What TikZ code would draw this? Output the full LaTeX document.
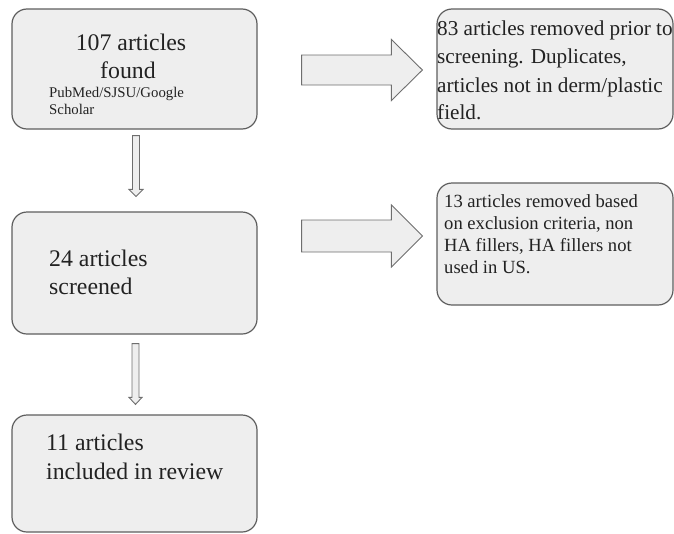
\documentclass[tikz,border=0pt]{standalone}
\usepackage{fontspec}
\setmainfont{Liberation Serif}
\usetikzlibrary{calc}
\definecolor{boxfill}{HTML}{EEEEEE}
\definecolor{boxline}{HTML}{5E5E5E}
\definecolor{arrline}{HTML}{6E6E6E}
\definecolor{txt}{HTML}{222222}
\newcommand{\hblk}[5]{\draw[blockarr] let \p1=(#1),\p2=(#2) in
  (\x1,\y1-#3pt) -- (\x2-#5pt,\y1-#3pt) -- (\x2-#5pt,\y1-#4pt) -- (\x2,\y1)
  -- (\x2-#5pt,\y1+#4pt) -- (\x2-#5pt,\y1+#3pt) -- (\x1,\y1+#3pt) -- cycle;}
\newcommand{\vblk}[5]{\draw[blockarr] let \p1=(#1),\p2=(#2) in
  (\x1-#3pt,\y1) -- (\x1-#3pt,\y2+#5pt) -- (\x1-#4pt,\y2+#5pt) -- (\x1,\y2)
  -- (\x1+#4pt,\y2+#5pt) -- (\x1+#3pt,\y2+#5pt) -- (\x1+#3pt,\y1) -- cycle;}
\tikzset{
  box/.style={draw=boxline, fill=boxfill, line width=1.2pt, rounded corners=15pt, inner sep=0pt},
  blockarr/.style={draw=arrline, fill=boxfill, line width=0.9pt, line join=miter},
  big/.style={inner sep=0pt, text=txt, font=\fontsize{23.8}{28}\selectfont},
  mid/.style={inner sep=0pt, text=txt, font=\fontsize{21.2}{28}\selectfont},
  sml/.style={inner sep=0pt, text=txt, font=\fontsize{18.6}{22}\selectfont},
  tiny/.style={inner sep=0pt, text=txt, font=\fontsize{14.8}{17}\selectfont},
}
\begin{document}
\begin{tikzpicture}[x=1pt,y=-1pt]
\useasboundingbox (0,0) rectangle (674,533);
% boxes
\node[box, minimum width=245, minimum height=120] (b1) at (134.5,69) {};
\node[box, minimum width=245, minimum height=122] (b2) at (134.5,273) {};
\node[box, minimum width=245, minimum height=117] (b3) at (134.5,473.5) {};
\node[box, minimum width=236, minimum height=120] (r1) at (555,69) {};
\node[box, minimum width=236, minimum height=122] (r2) at (555,244) {};
% texts
\node[big, anchor=base] (t1a) at (131,50) {107 articles};
\node[big, anchor=base] (t1b) at (128,78) {found};
\node[tiny, anchor=base west] (t1c) at (49,97) {PubMed/SJSU/Google};
\node[tiny, anchor=base west] (t1d) at (49,114) {Scholar};
\node[big, anchor=base west] (t2a) at (49,266) {24 articles};
\node[big, anchor=base west] (t2b) at (49,294) {screened};
\node[big, anchor=base west] (t3a) at (46,450) {11 articles};
\node[big, anchor=base west] (t3b) at (46,479) {included in review};
\node[mid, anchor=base west] (r1a) at (437,35) {83 articles removed prior to};
\node[mid, anchor=base west] (r1b) at (437,63) {screening. Duplicates,};
\node[mid, anchor=base west] (r1c) at (437,92) {articles not in derm/plastic};
\node[mid, anchor=base west] (r1d) at (437,119) {field.};
\node[sml, anchor=base west] (r2a) at (444,207) {13 articles removed based};
\node[sml, anchor=base west] (r2b) at (444,229) {on exclusion criteria, non};
\node[sml, anchor=base west] (r2c) at (444,251) {HA fillers, HA fillers not};
\node[sml, anchor=base west] (r2d) at (444,273) {used in US.};
% connector end points
\coordinate (h1s) at ($(b1.east)+(44,1)$);
\coordinate (h1e) at ($(r1.west)+(-14,1)$);
\coordinate (h2s) at ($(b2.east)+(44,-37)$);
\coordinate (h2e) at ($(r2.west)+(-14,-8)$);
\coordinate (v1s) at ($(b1.south)+(1.5,6)$);
\coordinate (v1e) at ($(b2.north)+(1.5,-15)$);
\coordinate (v2s) at ($(b2.south)+(1,9)$);
\coordinate (v2e) at ($(b3.north)+(1,-10)$);
% block arrows
\hblk{h1s}{h1e}{15}{30.5}{31}
\hblk{h2s}{h2e}{16}{31}{31}
\vblk{v1s}{v1e}{3.5}{7}{7}
\vblk{v2s}{v2e}{3.5}{6.5}{7}
\end{tikzpicture}
\end{document}
